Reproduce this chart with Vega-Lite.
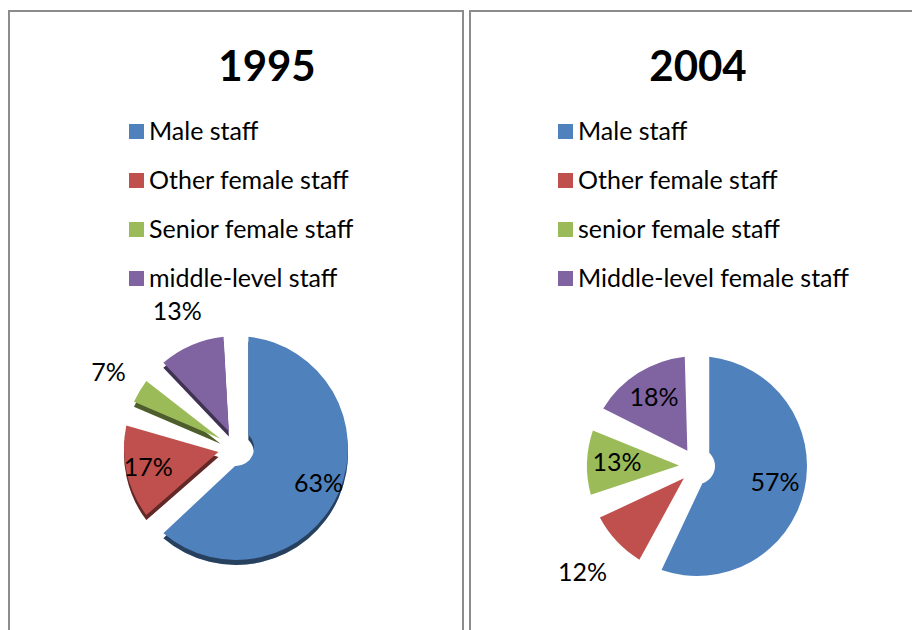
{
  "$schema": "https://vega.github.io/schema/vega-lite/v6.json",
  "padding": {"left": 8, "top": 10, "right": 0, "bottom": 0},
  "spacing": 5,
  "config": {
    "font": "Lato",
    "view": {"stroke": "#8c8c8c", "strokeWidth": 2},
    "title": {"fontSize": 42, "fontWeight": "bold", "color": "#000000", "anchor": "middle", "baseline": "alphabetic", "offset": -79},
    "legend": {"orient": "none", "title": null, "padding": 0, "symbolType": "square", "symbolSize": 225, "symbolStrokeWidth": 0, "labelFontSize": 25, "labelColor": "#000000", "labelOffset": 0, "rowPadding": 23, "labelLimit": 400}
  },
  "resolve": {"scale": {"color": "independent", "theta": "independent"}, "legend": {"color": "independent"}},
  "hconcat": [
    {
      "width": 454,
      "height": 874,
      "view": {"stroke": "#8c8c8c", "strokeWidth": 2},
      "title": {"text": "1995", "dx": 31},
      "data": {"values": [
        {"category": "Male staff", "share": 0.63, "idx": 1},
        {"category": "Other female staff", "share": 0.17, "idx": 2},
        {"category": "Senior female staff", "share": 0.07, "idx": 3},
        {"category": "middle-level staff", "share": 0.13, "idx": 4}
      ]},
      "encoding": {
        "theta": {"field": "share", "type": "quantitative", "stack": true},
        "order": {"field": "idx", "type": "quantitative"},
        "color": {
          "field": "category", "type": "nominal",
          "scale": {"domain": ["Male staff", "Other female staff", "Senior female staff", "middle-level staff"], "range": ["#4f81bd", "#c0504d", "#9bbb59", "#8064a2"]},
          "legend": {"legendX": 115, "legendY": 108}
        }
      },
      "layer": [
        {"mark": {"type": "arc", "outerRadius": 112, "innerRadius": 18, "padAngle": 0.22, "yOffset": 5}},
        {"mark": {"type": "arc", "outerRadius": 112, "innerRadius": 18, "padAngle": 0.22, "yOffset": 5, "fillOpacity": 0.5}, "encoding": {"color": {"value": "#000000"}}},
        {"mark": {"type": "arc", "outerRadius": 112, "innerRadius": 18, "padAngle": 0.22}},
        {
          "mark": {"type": "text", "radius": 90, "fontSize": 25},
          "encoding": {
            "color": {"value": "#000000"},
            "text": {"condition": {"test": "datum.idx <= 2", "field": "share", "type": "quantitative", "format": ".0%"}, "value": ""}
          }
        },
        {
          "mark": {"type": "text", "radius": 148, "fontSize": 25},
          "encoding": {
            "color": {"value": "#000000"},
            "text": {"condition": {"test": "datum.idx >= 3", "field": "share", "type": "quantitative", "format": ".0%"}, "value": ""}
          }
        }
      ]
    },
    {
      "width": 454,
      "height": 910,
      "view": {"stroke": "#8c8c8c", "strokeWidth": 2},
      "title": {"text": "2004", "dx": 1},
      "data": {"values": [
        {"category": "Male staff", "share": 0.57, "idx": 1},
        {"category": "Other female staff", "share": 0.12, "idx": 2},
        {"category": "senior female staff", "share": 0.13, "idx": 3},
        {"category": "Middle-level female staff", "share": 0.18, "idx": 4}
      ]},
      "encoding": {
        "theta": {"field": "share", "type": "quantitative", "stack": true},
        "order": {"field": "idx", "type": "quantitative"},
        "color": {
          "field": "category", "type": "nominal",
          "scale": {"domain": ["Male staff", "Other female staff", "senior female staff", "Middle-level female staff"], "range": ["#4f81bd", "#c0504d", "#9bbb59", "#8064a2"]},
          "legend": {"legendX": 83, "legendY": 108}
        }
      },
      "layer": [
        {"mark": {"type": "arc", "outerRadius": 110, "innerRadius": 18, "padAngle": 0.22}},
        {
          "mark": {"type": "text", "radius": 80, "fontSize": 25},
          "encoding": {
            "color": {"value": "#000000"},
            "text": {"condition": {"test": "datum.idx != 2", "field": "share", "type": "quantitative", "format": ".0%"}, "value": ""}
          }
        },
        {
          "mark": {"type": "text", "radius": 157, "fontSize": 25},
          "encoding": {
            "color": {"value": "#000000"},
            "text": {"condition": {"test": "datum.idx == 2", "field": "share", "type": "quantitative", "format": ".0%"}, "value": ""}
          }
        }
      ]
    }
  ]
}
